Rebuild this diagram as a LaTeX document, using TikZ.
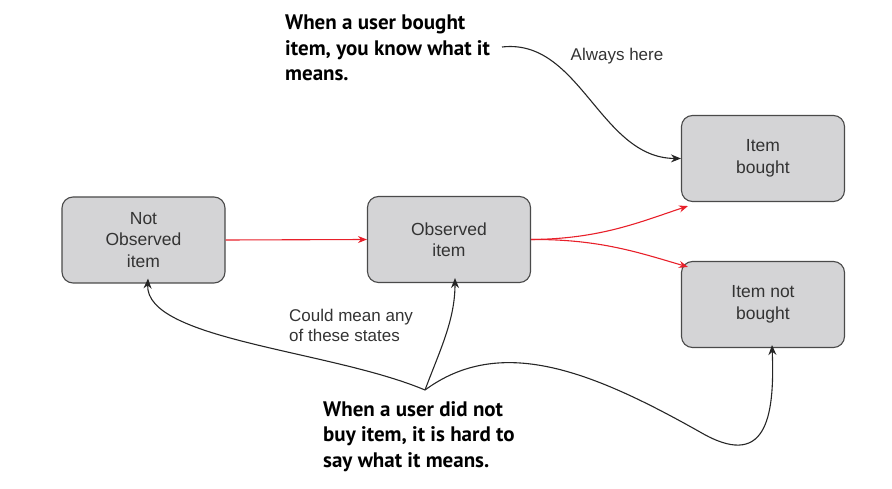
\documentclass[tikz,border=0pt]{standalone}
\usepackage{fontspec}
\setmainfont{Liberation Sans}
\newfontfamily\notefont{PT Sans}
\usetikzlibrary{arrows.meta}

\definecolor{boxgray}{HTML}{D4D4D6}
\definecolor{boxedge}{HTML}{4A4A4A}
\definecolor{textgray}{HTML}{333333}
\definecolor{flowred}{HTML}{E8202A}

\tikzset{
	state/.style={draw=boxedge, fill=boxgray, line width=1.1pt, rounded corners=11pt,
		minimum width=163pt, minimum height=86pt, align=center, text=textgray,
		font=\fontsize{17.5}{21.5}\selectfont},
	flow/.style={flowred, line width=1.1pt, -{Stealth[length=9pt,width=7pt]}},
	pointer/.style={black!85, line width=1.1pt, -{Stealth[length=10pt,width=8pt]}},
	remark/.style={align=left, text=textgray, font=\fontsize{17}{20}\selectfont},
	callout/.style={align=left, font=\notefont\bfseries\fontsize{21}{25.5}\selectfont}
}

\begin{document}
\begin{tikzpicture}[x=1pt, y=-1pt]
	
	\useasboundingbox (0,0) rectangle (892,489);
	
	% states
	\node[state] (notobs) at (143.5,240) {Not\\Observed\\item};
	\node[state] (obs) at (449,239.5) {Observed\\item};
	\node[state] (bought) at (763,158.5) {Item\\bought};
	\node[state] (notbought) at (763,304.5) {Item not\\bought};
	
	% notes
	\node[callout, anchor=north west, inner sep=0pt] (known) at (285,15) {When a user bought\\item, you know what it\\means.};
	\node[remark, inner sep=0pt] (always) at (617,56) {Always here};
	\node[remark, anchor=north west, inner sep=0pt] (could) at (289,309) {Could mean any\\of these states};
	\node[callout, anchor=north west, inner sep=0pt] (unknown) at (323,401) {When a user did not\\buy item, it is hard to\\say what it means.};
	
	\coordinate (knownend) at (502,47);
	\coordinate (fork) at (425,390);
	\coordinate (dip) at (700,432);
	
	% observed flow
	\draw[flow] (notobs.east) -- (obs.west);
	\draw[flow] (obs.east) .. controls (600,239) and (640,222) .. ([xshift=7pt,yshift=-4pt]bought.south west);
	\draw[flow] (obs.east) .. controls (600,239) and (640,253) .. ([xshift=7pt,yshift=-6pt]notbought.north west);
	
	% pointers from the notes
	\draw[pointer] (knownend) .. controls (580,38) and (600,158) .. (bought.west);
	\draw[pointer] (fork) .. controls (330,350) and (145,340) .. ([xshift=4.5pt,yshift=5pt]notobs.south);
	\draw[pointer] (fork) .. controls (440,350) and (455,320) .. ([xshift=6pt,yshift=5pt]obs.south);
	\draw[pointer] (fork) .. controls (500,335) and (590,370) .. (dip)
		.. controls (765,470) and (775,420) .. ([xshift=9pt,yshift=3pt]notbought.south);
	
\end{tikzpicture}
\end{document}
